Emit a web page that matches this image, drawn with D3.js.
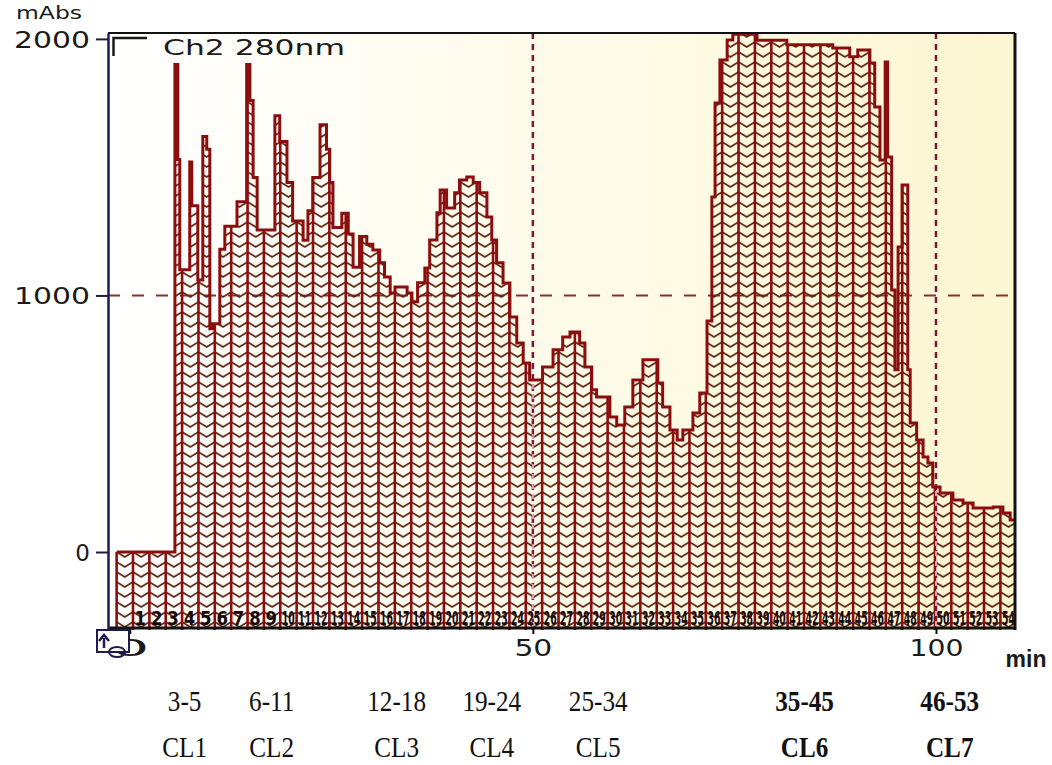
<!DOCTYPE html>
<html><head><meta charset="utf-8">
<script src="https://cdn.jsdelivr.net/npm/d3@7"></script>
<style>body{margin:0;background:#fff}</style>
</head><body>
<svg id="chart" width="1052" height="765"></svg>
<script>
// ---- data ----
const times = [-1.63,5.6,5.96,6.2,7.44,7.69,8.44,9.06,9.55,9.93,10.3,11.17,11.79,13.3,14.5,14.9,15.3,15.8,18.0,18.6,19.5,20.2,21.5,22.1,22.7,23.6,24.4,24.8,25.2,26.3,27.1,27.7,28.5,29.4,30.15,31.0,31.6,32.3,32.9,34.4,35.0,35.7,36.6,37.2,38.1,38.5,39.3,40.3,40.9,41.8,42.6,43.4,44.3,44.9,45.5,46.3,47.15,48.0,48.8,49.6,51.2,52.5,53.7,54.6,55.8,56.45,57.3,57.9,59.55,60.4,61.4,62.4,63.65,65.5,66.1,67.0,67.9,68.6,69.85,70.7,71.6,72.2,72.6,73.2,74.1,74.8,77.8,81.5,87.2,89.3,90.3,91.8,92.4,93.05,93.7,94.0,94.5,94.9,95.3,95.8,96.5,96.8,97.6,98.4,99.0,99.6,100.5,102.1,103.35,104.6,107.1,108.3,109.2,109.8];
const mAbs = [0,1900,1530,1100,1520,1350,1060,1620,1570,870,890,1180,1270,1365,1900,1760,1460,1255,1700,1600,1440,1290,1215,1330,1460,1665,1570,1440,1265,1320,1240,1110,1230,1200,1177,1127,1072,1010,1033,1010,975,1050,1107,1216,1322,1411,1341,1400,1450,1462,1440,1400,1306,1216,1127,1049,916,815,737,670,721,788,838,858,815,721,632,604,526,495,565,670,749,659,565,476,437,476,542,620,900,1384,1750,1918,1996,2018,1995,1977,1965,1930,1957,1906,1735,1528,1910,1540,1021,710,1189,1431,710,503,437,370,347,253,230,203,191,172,175,152,125,125];
const yTicks = [0, 1000, 2000];
const xTicks = [0, 50, 100];
const fractionNumbers = [1,2,3,4,5,6,7,8,9,10,11,12,13,14,15,16,17,18,19,20,21,22,23,24,25,26,27,28,29,30,31,32,33,34,35,36,37,38,39,40,41,42,43,44,45,46,47,48,49,50,51,52,53,54];
const fractionStart = 0.4;   // min, start of fraction 1
const fractionWidth = 2.03;  // min per fraction
const poolRanges = ["3-5","6-11","12-18","19-24","25-34","35-45","46-53"];
const poolNames  = ["CL1","CL2","CL3","CL4","CL5","CL6","CL7"];
const poolCenters = [6.8, 17.6, 33.1, 44.9, 58.1, 83.7, 101.7];
const poolBold = [false,false,false,false,false,true,true];

// ---- layout ----
const L = 108, R = 1015, T = 33, B = 630;
const svg = d3.select("#chart");
const x = d3.scaleLinear().domain([-2.7, 109.8]).range([L, R]);
const y = d3.scaleLinear().domain([-304, 2023]).range([B, T]);
const data = times.map((t, i) => ({t, v: mAbs[i]}));
const valueAt = t => { const i = d3.bisectRight(times, t) - 1; return mAbs[Math.max(0, Math.min(i, mAbs.length - 1))]; };

const defs = svg.append("defs");
const grad = defs.append("linearGradient").attr("id", "bg").attr("x1", "0").attr("x2", "1").attr("y1", "0").attr("y2", "0");
grad.append("stop").attr("offset", "0").attr("stop-color", "#ffffff");
grad.append("stop").attr("offset", "0.4").attr("stop-color", "#fffcee");
grad.append("stop").attr("offset", "1").attr("stop-color", "#fdf6d2");
defs.append("clipPath").attr("id", "plotclip").append("rect").attr("x", L).attr("y", T).attr("width", R - L).attr("height", B - T);
const wpx = x(fractionWidth) - x(0);
const pat = defs.append("pattern").attr("id", "hatch").attr("patternUnits", "userSpaceOnUse")
  .attr("x", x(fractionStart)).attr("y", 0).attr("width", wpx).attr("height", 10);
pat.append("path").attr("d", `M0,2 L${wpx/2},7 L${wpx},2`).attr("fill", "none").attr("stroke", "#5e2510").attr("stroke-width", 1.8);

svg.append("rect").attr("x", L).attr("y", T).attr("width", R - L).attr("height", B - T).attr("fill", "url(#bg)");

// gridlines
svg.append("line").attr("x1", L).attr("x2", R).attr("y1", y(1000)).attr("y2", y(1000))
  .attr("stroke", "#8a3030").attr("stroke-width", 2).attr("stroke-dasharray", "12,12");
[50, 100].forEach(v => {
  svg.append("line").attr("x1", x(v)).attr("x2", x(v)).attr("y1", T).attr("y2", B)
    .attr("stroke", "#7a1838").attr("stroke-width", 2.5).attr("stroke-dasharray", "6,5");
});

const g = svg.append("g").attr("clip-path", "url(#plotclip)");
const area = d3.area().x(d => x(d.t)).y0(B).y1(d => y(d.v)).curve(d3.curveStepAfter);
const line = d3.line().x(d => x(d.t)).y(d => y(d.v)).curve(d3.curveStepAfter);
g.append("path").datum(data).attr("d", area).attr("fill", "url(#hatch)");

// fraction boundaries
const bounds = [fractionStart - fractionWidth].concat(fractionNumbers.map(n => fractionStart + (n - 1) * fractionWidth));
g.selectAll("line.frac").data(bounds).enter().append("line").attr("class", "frac")
  .attr("x1", d => x(d)).attr("x2", d => x(d)).attr("y1", B).attr("y2", d => y(valueAt(d)))
  .attr("stroke", "#8c0d0d").attr("stroke-width", 2.6);

g.append("path").datum(data).attr("d", line).attr("fill", "none").attr("stroke", "#8c0d0d").attr("stroke-width", 3).attr("stroke-linejoin", "miter");

// faint dotted marks through the area
[50, 100].forEach(v => {
  g.append("line").attr("x1", x(v)).attr("x2", x(v)).attr("y1", y(valueAt(v)) + 4).attr("y2", B)
    .attr("stroke", "#d9a0b4").attr("stroke-width", 2).attr("stroke-dasharray", "5,5");
});

// fraction number strip (each number squeezed into its fraction's width)
g.selectAll("text.fn").data(fractionNumbers).enter().append("text").attr("class", "fn")
  .attr("x", 0).attr("y", 0)
  .attr("font-family", "DejaVu Sans").attr("font-weight", "bold").attr("font-size", 19).attr("fill", "#140808")
  .text(n => n)
  .each(function(n) {
    const natural = this.getComputedTextLength();
    const target = n >= 10 ? wpx - 3.4 : Math.min(11.5, natural);
    const sx = target / natural;
    d3.select(this).attr("transform", `translate(${x(fractionStart + (n - 1) * fractionWidth) + 1.6},625) scale(${sx},1)`);
  });

// frame
svg.append("line").attr("x1", L).attr("x2", R).attr("y1", T).attr("y2", T).attr("stroke", "#111").attr("stroke-width", 2);
svg.append("line").attr("x1", R).attr("x2", R).attr("y1", T).attr("y2", B).attr("stroke", "#111").attr("stroke-width", 3);
svg.append("line").attr("x1", L).attr("x2", R + 1).attr("y1", 628).attr("y2", 628).attr("stroke", "#111").attr("stroke-width", 3);

// y axis
const yAxis = d3.axisLeft(y).tickValues(yTicks).tickSize(12).tickSizeOuter(0).tickPadding(6).tickFormat(d3.format("d"));
const ya = svg.append("g").attr("transform", `translate(${L},0)`).call(yAxis);
ya.select(".domain").attr("stroke", "#1c1c4e").attr("stroke-width", 2.5);
ya.selectAll(".tick line").attr("stroke", "#1c1c4e").attr("stroke-width", 2);
ya.selectAll(".tick text").attr("font-family", "DejaVu Sans").attr("font-size", 23).attr("fill", "#1a1a1a")
  .attr("dy", "0.36em")
  .each(function(d) { if (d >= 1000) d3.select(this).attr("textLength", 76).attr("lengthAdjust", "spacingAndGlyphs"); });

// x axis
const xAxis = d3.axisBottom(x).tickValues(xTicks).tickSize(6).tickSizeOuter(0).tickPadding(6);
const xa = svg.append("g").attr("transform", `translate(0,628)`).call(xAxis);
xa.select(".domain").remove();
xa.selectAll(".tick line").attr("stroke", "#111").attr("stroke-width", 2);
xa.selectAll(".tick text").attr("font-family", "DejaVu Sans").attr("font-size", 23).attr("fill", "#1a1a1a")
  .each(function(d) { const s = d3.select(this); s.attr("textLength", d === 100 ? 54 : 38).attr("lengthAdjust", "spacingAndGlyphs"); });

// icon box at origin
svg.append("rect").attr("x", 97).attr("y", 630).attr("width", 32).attr("height", 22).attr("fill", "#fff").attr("stroke", "#1c1c4e").attr("stroke-width", 2);
svg.append("path").attr("d", "M104,648 L104,638 M99,641 L104,635 L109,641").attr("fill", "none").attr("stroke", "#1c1c4e").attr("stroke-width", 2.5);
svg.append("ellipse").attr("cx", 117).attr("cy", 652).attr("rx", 8).attr("ry", 5).attr("fill", "none").attr("stroke", "#1c1c4e").attr("stroke-width", 2);

// titles
svg.append("text").attr("x", 16).attr("y", 19).attr("font-family", "DejaVu Sans").attr("font-size", 17).attr("fill", "#1a1a1a")
  .attr("textLength", 66).attr("lengthAdjust", "spacingAndGlyphs").text("mAbs");
svg.append("path").attr("d", "M113.5,56 L113.5,38 L147,38").attr("fill", "none").attr("stroke", "#1a1a1a").attr("stroke-width", 2.5);
svg.append("text").attr("x", 163).attr("y", 55).attr("font-family", "DejaVu Sans").attr("font-size", 21).attr("fill", "#1a1a1a")
  .attr("textLength", 182).attr("lengthAdjust", "spacingAndGlyphs").text("Ch2 280nm");
svg.append("text").attr("x", 1026).attr("y", 667).attr("text-anchor", "middle").attr("font-family", "Liberation Sans").attr("font-weight", "bold")
  .attr("font-size", 23).attr("fill", "#1a1a1a").text("min");

// pool labels
poolCenters.forEach((c, i) => {
  svg.append("text").attr("transform", `translate(${x(c)},711) scale(0.84,1)`).attr("text-anchor", "middle")
    .attr("font-family", "Liberation Serif").attr("font-size", 30).attr("fill", "#111")
    .attr("font-weight", poolBold[i] ? "bold" : "normal").text(poolRanges[i]);
  svg.append("text").attr("transform", `translate(${x(c)},757) scale(0.84,1)`).attr("text-anchor", "middle")
    .attr("font-family", "Liberation Serif").attr("font-size", 30).attr("fill", "#111")
    .attr("font-weight", poolBold[i] ? "bold" : "normal").text(poolNames[i]);
});
</script>
</body></html>
